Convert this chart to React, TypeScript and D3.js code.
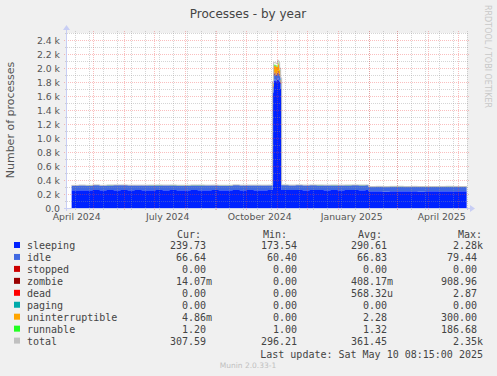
import * as d3 from 'd3';
import React from 'react';

// samples (start day of each consolidated step)
const sampleDates = [
  '2024-04-10', '2024-04-17', '2024-04-24', '2024-05-01', '2024-05-08', '2024-05-15',
  '2024-05-22', '2024-05-29', '2024-06-05', '2024-06-12', '2024-06-19', '2024-06-26',
  '2024-07-03', '2024-07-10', '2024-07-17', '2024-07-24', '2024-07-31', '2024-08-07',
  '2024-08-14', '2024-08-21', '2024-08-28', '2024-09-04', '2024-09-11', '2024-09-18',
  '2024-09-25', '2024-10-02', '2024-10-09', '2024-10-16', '2024-10-23',
  '2024-10-28', '2024-10-29', '2024-10-30', '2024-10-31', '2024-11-01', '2024-11-02',
  '2024-11-03', '2024-11-04', '2024-11-05',
  '2024-11-06', '2024-11-13', '2024-11-20', '2024-11-27', '2024-12-04', '2024-12-11',
  '2024-12-18', '2024-12-25', '2025-01-01', '2025-01-08', '2025-01-15', '2025-01-22',
  '2025-01-29',
  '2025-02-01', '2025-02-08', '2025-02-15', '2025-02-22', '2025-03-01', '2025-03-08',
  '2025-03-15', '2025-03-22', '2025-03-29', '2025-04-05', '2025-04-12', '2025-04-19',
  '2025-04-26', '2025-05-03', '2025-05-10',
];

const sleeping = [
  252, 255, 254, 257, 253, 256, 255, 258, 254, 256, 253, 255, 257, 254, 256, 255, 253, 257,
  255, 254, 256, 253, 255, 257, 254, 256, 255, 253, 256,
  1650, 1820, 1840, 1810, 1830, 1850, 1820, 1800, 1700,
  258, 256, 257, 255, 258, 256, 254, 257, 255, 256, 258, 255, 257,
  238, 240, 237, 239, 241, 238, 240, 237, 239, 238, 240, 241, 238, 239, 240,
];
const idle = [
  69, 70, 68, 71, 69, 70, 72, 69, 70, 68, 71, 70, 69, 71, 70, 68, 70, 69,
  71, 70, 69, 70, 68, 71, 70, 69, 70, 71, 69,
  74, 78, 79, 77, 78, 79, 78, 77, 75,
  70, 69, 71, 70, 69, 70, 71, 69, 70, 70, 69, 71, 70,
  66, 67, 66, 68, 67, 66, 67, 68, 66, 67, 66, 67, 68, 66, 67,
];
const zombie = [
  0, 0, 0, 0, 0, 0, 0, 0, 0, 0, 0, 0, 0, 0, 0, 0, 0, 0,
  0, 0, 0, 0, 0, 0, 0, 0, 0, 0, 0,
  10, 25, 20, 18, 22, 30, 25, 15, 10,
  0, 0, 0, 0, 0, 0, 0, 0, 0, 0, 0, 0, 0,
  0, 0, 0, 0, 0, 0, 0, 0, 0, 0, 0, 0, 0, 0, 0,
];
const uninterruptible = [
  0, 0, 0, 0, 0, 0, 0, 0, 0, 0, 0, 0, 0, 0, 0, 0, 0, 0,
  0, 0, 0, 0, 0, 0, 0, 0, 0, 0, 0,
  40, 110, 95, 120, 85, 105, 115, 70, 45,
  0, 0, 0, 0, 0, 0, 0, 0, 0, 0, 0, 0, 0,
  0, 0, 0, 0, 0, 0, 0, 0, 0, 0, 0, 0, 0, 0, 0,
];
const runnable = [
  1, 1, 2, 1, 1, 1, 2, 1, 1, 1, 1, 2, 1, 1, 1, 1, 2, 1,
  1, 1, 1, 2, 1, 1, 1, 1, 1, 2, 1,
  8, 14, 12, 16, 11, 13, 15, 10, 7,
  1, 1, 2, 1, 1, 1, 1, 2, 1, 1, 1, 1, 2,
  1, 1, 1, 2, 1, 1, 1, 1, 1, 2, 1, 1, 1, 1, 1,
];
const total = [
  323, 327, 324, 330, 324, 328, 329, 329, 326, 326, 326, 327, 328, 327, 328, 325, 325, 328,
  328, 326, 327, 325, 325, 330, 326, 327, 327, 326, 327,
  1810, 2080, 2075, 2070, 2060, 2110, 2085, 2000, 1860,
  330, 327, 330, 327, 329, 328, 327, 328, 327, 328, 329, 328, 329,
  306, 309, 305, 309, 310, 306, 309, 307, 307, 307, 308, 310, 308, 307, 309,
];

const legendNames = ['sleeping', 'idle', 'stopped', 'zombie', 'dead', 'paging', 'uninterruptible', 'runnable', 'total'];
const legendColors = ['#0022ff', '#4169e1', '#cc0000', '#990000', '#ff0000', '#00aaaa', '#ffa500', '#22ff22', '#c0c0c0'];
const curValues = ['239.73', '66.64', '0.00', '14.07m', '0.00', '0.00', '4.86m', '1.20', '307.59'];
const minValues = ['173.54', '60.40', '0.00', '0.00', '0.00', '0.00', '0.00', '1.00', '296.21'];
const avgValues = ['290.61', '66.83', '0.00', '408.17m', '568.32u', '0.00', '2.28', '1.32', '361.45'];
const maxValues = ['2.28k', '79.44', '0.00', '908.96', '2.87', '0.00', '300.00', '186.68', '2.35k'];

const yTicks = [0, 200, 400, 600, 800, 1000, 1200, 1400, 1600, 1800, 2000, 2200, 2400];
const quarterLabels = ['2024-04-15', '2024-07-15', '2024-10-15', '2025-01-15', '2025-04-15'];

const W = 497;
const H = 376;
const plot = { left: 67, right: 467, top: 33, bottom: 208 };
const parse = (s: string) => new Date(s + 'T00:00:00Z');

export default function App() {
  const start = new Date(Date.UTC(2024, 3, 5, 8, 15));
  const end = new Date(Date.UTC(2025, 4, 10, 8, 15));
  const x = d3.scaleUtc().domain([start, end]).range([plot.left, plot.right]);
  const y = d3.scaleLinear().domain([0, 2500]).range([plot.bottom, plot.top]);

  const keys = ['sleeping', 'idle', 'zombie', 'uninterruptible', 'runnable'];
  const colorOf: Record<string, string> = {
    sleeping: '#0022ff', idle: '#4169e1', zombie: '#990000', uninterruptible: '#ffa500', runnable: '#22ff22',
  };
  const rows = sampleDates.map((d, i) => ({
    date: parse(d),
    sleeping: sleeping[i],
    idle: idle[i],
    zombie: zombie[i],
    uninterruptible: uninterruptible[i],
    runnable: runnable[i],
    total: total[i],
  }));
  const series = d3.stack<any>().keys(keys)(rows);

  const area = d3.area<any>()
    .x(d => x(d.data.date))
    .y0(d => y(d[0]))
    .y1(d => y(d[1]))
    .curve(d3.curveStepAfter);
  const totalLine = d3.line<any>()
    .x(d => x(d.date))
    .y(d => y(d.total))
    .curve(d3.curveStepAfter);

  // grid
  const minorY = d3.range(100, 2501, 200);
  const monthLines = d3.utcMonth.range(d3.utcMonth.ceil(start), end);
  const minorX = d3.utcDay.range(parse('2024-04-13'), end, 14);
  const fmtY = (v: number) => (v === 0 ? '0.0' : `${(v / 1000).toFixed(1)} k`);
  const fmtMonth = d3.utcFormat('%B %Y');

  const mono = 'DejaVu Sans Mono, monospace';
  const sans = 'DejaVu Sans, sans-serif';
  const rowY = (i: number) => 249 + i * 11.95;
  const cols = [
    { head: 'Cur:', hx: 177, end: 206, vals: curValues },
    { head: 'Min:', hx: 263, end: 297, vals: minValues },
    { head: 'Avg:', hx: 358, end: 387, vals: avgValues },
    { head: 'Max:', hx: 458, end: 477, vals: maxValues },
  ];
  const split = (s: string) => {
    const m = s.match(/^([0-9.]+)([a-zA-Z]?)$/);
    return m ? [m[1], m[2]] : [s, ''];
  };
  const minorColor = 'rgba(150,150,150,0.4)';
  const majorColor = 'rgba(240,70,70,0.35)';

  return (
    <svg width={W} height={H} style={{ position: 'absolute', left: 0, top: 0 }}>
      <rect width={W} height={H} fill="#f0f0f0" />
      <rect x={plot.left} y={plot.top} width={plot.right - plot.left} height={plot.bottom - plot.top} fill="#ffffff" />

      {series.map(s => (
        <path key={s.key} d={area(s as any) ?? ''} fill={colorOf[s.key]} />
      ))}
      <path d={totalLine(rows) ?? ''} fill="none" stroke="#c0c0c0" strokeWidth={1} />

      <g shapeRendering="crispEdges">
        {minorY.map(v => (
          <line key={'my' + v} x1={plot.left - 2} x2={plot.right + 2} y1={Math.round(y(v)) + 0.5} y2={Math.round(y(v)) + 0.5}
            stroke={minorColor} strokeDasharray="1,1" />
        ))}
        {minorX.map(d => (
          <line key={'mx' + +d} x1={Math.round(x(d)) + 0.5} x2={Math.round(x(d)) + 0.5} y1={plot.top - 2} y2={plot.bottom + 3}
            stroke={minorColor} strokeDasharray="1,1" />
        ))}
        {yTicks.filter(v => v > 0).map(v => (
          <line key={'My' + v} x1={plot.left - 3} x2={plot.right + 2} y1={Math.round(y(v)) + 0.5} y2={Math.round(y(v)) + 0.5}
            stroke={majorColor} strokeDasharray="1,1" />
        ))}
        {monthLines.map(d => (
          <line key={'Mx' + +d} x1={Math.round(x(d)) + 0.5} x2={Math.round(x(d)) + 0.5} y1={plot.top - 2} y2={plot.bottom + 3}
            stroke={majorColor} strokeDasharray="1,1" />
        ))}
        {/* axes */}
        <line x1={plot.left - 3} x2={plot.right + 3} y1={plot.bottom + 0.5} y2={plot.bottom + 0.5} stroke="#c8cef4" />
        <line x1={plot.left - 0.5} x2={plot.left - 0.5} y1={plot.bottom + 3} y2={plot.top - 3} stroke="#c8cef4" />
      </g>
      <path d={`M${plot.right + 3},${plot.bottom - 3} L${plot.right + 8},${plot.bottom + 0.5} L${plot.right + 3},${plot.bottom + 4} Z`} fill="#c8cef4" />
      <path d={`M${plot.left - 4},${plot.top - 3} L${plot.left - 0.5},${plot.top - 8} L${plot.left + 3},${plot.top - 3} Z`} fill="#c8cef4" />

      {yTicks.map(v => (
        <text key={'yl' + v} x={60} y={y(v) + 3.5} textAnchor="end" fontFamily={sans} fontSize={9.3} fill="#555">
          {fmtY(v)}
        </text>
      ))}
      {quarterLabels.map(s => (
        <text key={s} x={x(parse(s))} y={219.5} textAnchor="middle" fontFamily={sans} fontSize={9.3} fill="#555">
          {fmtMonth(parse(s))}
        </text>
      ))}

      <text x={248} y={18} textAnchor="middle" fontFamily={sans} fontSize={12} fill="#444">Processes - by year</text>
      <text transform="translate(14,120) rotate(-90)" textAnchor="middle" fontFamily={sans} fontSize={11} fill="#555">
        Number of processes
      </text>
      <text transform="translate(485,5) rotate(90)" fontFamily={sans} fontSize={8} fill="#c8c8c8" textLength={103} lengthAdjust="spacingAndGlyphs">
        RRDTOOL / TOBI OETIKER
      </text>

      {cols.map(c => (
        <text key={c.head} x={c.hx} y={237.5} fontFamily={mono} fontSize={10} fill="#444">{c.head}</text>
      ))}
      {legendNames.map((n, i) => (
        <g key={n}>
          <rect x={14} y={rowY(i) - 7} width={6} height={6} fill={legendColors[i]} />
          <text x={27} y={rowY(i)} fontFamily={mono} fontSize={10} fill="#444">{n}</text>
          {cols.map(c => {
            const [num, unit] = split(c.vals[i]);
            return (
              <g key={c.head}>
                <text x={c.end} y={rowY(i)} textAnchor="end" fontFamily={mono} fontSize={10} fill="#444">{num}</text>
                {unit && <text x={c.end} y={rowY(i)} fontFamily={mono} fontSize={10} fill="#444">{unit}</text>}
              </g>
            );
          })}
        </g>
      ))}
      <text x={483} y={357.5} textAnchor="end" fontFamily={mono} fontSize={10} fill="#444">
        Last update: Sat May 10 08:15:00 2025
      </text>
      <text x={248} y={368} textAnchor="middle" fontFamily={sans} fontSize={7.5} fill="#c0c0c0">Munin 2.0.33-1</text>
    </svg>
  );
}
